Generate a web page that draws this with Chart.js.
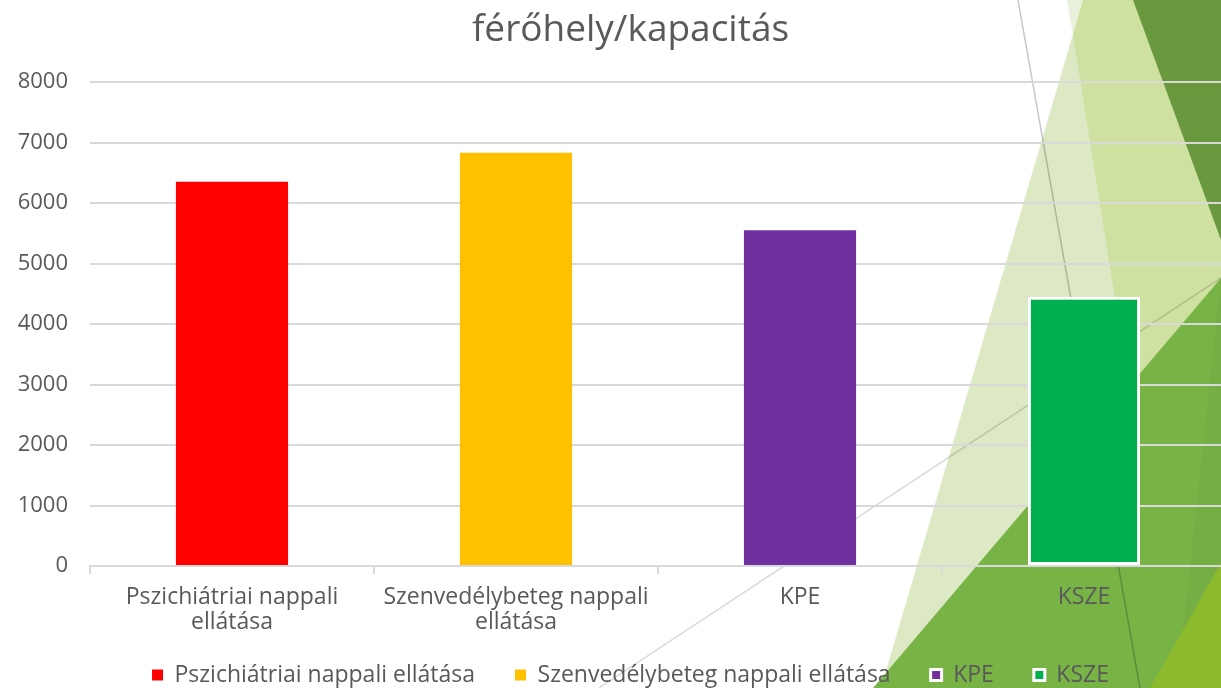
<!DOCTYPE html>
<html>
<head>
<meta charset="utf-8">
<script src="https://cdn.jsdelivr.net/npm/chart.js@4"></script>
<style>
  html, body { margin: 0; padding: 0; overflow: hidden; background: #fff; }
  #wrap { width: 1261px; height: 688px; }
</style>
</head>
<body>
<div id="wrap"><canvas id="capacityChart"></canvas></div>
<script>
// Adatok
const categories = [['Pszichiátriai nappali', 'ellátása'], ['Szenvedélybeteg nappali', 'ellátása'], 'KPE', 'KSZE'];
const legendNames = ['Pszichiátriai nappali ellátása', 'Szenvedélybeteg nappali ellátása', 'KPE', 'KSZE'];
const capacity = [6350, 6830, 5550, 4450];
const barColors = ['#ff0000', '#ffc000', '#7030a0', '#00b050'];
const barBorders = [0, 0, 0, 3];
const legendBorders = [0, 0, 3, 3];

const textColor = '#595959';
const fontFamily = '"Open Sans", sans-serif';

// Háttér díszítés (dia téma háromszögei)
const slideBackground = {
  id: 'slideBackground',
  beforeDraw(chart) {
    const c = chart.ctx;
    const W = chart.width;
    const poly = (pts, color) => {
      c.beginPath();
      c.moveTo(pts[0][0], pts[0][1]);
      pts.slice(1).forEach(p => c.lineTo(p[0], p[1]));
      c.closePath();
      c.fillStyle = color;
      c.fill();
    };
    const line = (a, b, color) => {
      c.beginPath();
      c.moveTo(a[0], a[1]);
      c.lineTo(b[0], b[1]);
      c.strokeStyle = color;
      c.lineWidth = 1.5;
      c.stroke();
    };
    c.save();
    poly([[1083, 0], [W, 0], [W, 688], [881, 688]], '#dde9c4');
    poly([[1067, 0], [1083, 0], [1073, 35]], '#e9f1dc');
    poly([[1073, 35], [1083, 0], [W, 0], [W, 688], [1177, 688]], '#cfe1a0');
    poly([[1133, 0], [W, 0], [W, 240], [1221, 240]], '#6a983f');
    poly([[1221, 278], [873, 688], [W, 688], [W, 278]], '#78b346');
    poly([[1221, 278], [1177, 688], [W, 688], [W, 278]], 'rgba(0,0,0,0.025)');
    poly([[1221, 563], [1150, 688], [W, 688], [W, 563]], '#8bbb2d');
    line([1018, 0], [1140, 688], 'rgba(0,0,0,0.22)');
    line([599, 688], [1221, 278], 'rgba(0,0,0,0.14)');
    c.restore();
  }
};

// Jelmagyarázat: alacsonyabb doboz, a szöveg feljebb kerül
const legendFit = {
  id: 'legendFit',
  beforeLayout(chart) {
    const lg = chart.legend;
    if (lg && !lg._fitPatched) {
      const origFit = lg.fit;
      const origDraw = lg.draw;
      lg.fit = function () {
        origFit.call(this);
        this.height = 52;
      };
      lg.draw = function () {
        const top = this.top;
        const height = this.height;
        this.top = top - 12.5;
        this.height = height + 12.5;
        origDraw.call(this);
        this.top = top;
        this.height = height;
      };
      lg._fitPatched = true;
    }
  }
};

const ctx = document.getElementById('capacityChart').getContext('2d');
new Chart(ctx, {
  type: 'bar',
  data: {
    labels: categories,
    datasets: [{
      label: 'férőhely/kapacitás',
      data: capacity,
      backgroundColor: barColors,
      borderColor: '#ffffff',
      borderWidth: barBorders,
      borderSkipped: false,
      categoryPercentage: 1,
      barPercentage: 0.395
    }]
  },
  options: {
    responsive: true,
    maintainAspectRatio: false,
    animation: false,
    plugins: {
      title: {
        display: true,
        text: 'férőhely/kapacitás',
        color: textColor,
        font: { family: fontFamily, size: 37, weight: 'normal', lineHeight: 1.2 },
        padding: { top: 8, bottom: 29.6 }
      },
      legend: {
        position: 'bottom',
        labels: {
          color: textColor,
          font: { family: fontFamily, size: 23 },
          boxWidth: 11,
          boxHeight: 11,
          padding: 40,
          generateLabels: () => legendNames.map((name, i) => ({
            text: name,
            fillStyle: barColors[i],
            strokeStyle: '#ffffff',
            lineWidth: legendBorders[i],
            fontColor: textColor,
            hidden: false,
            index: i
          }))
        },
        onClick: null
      },
      tooltip: { enabled: false }
    },
    scales: {
      x: {
        grid: {
          display: true,
          drawOnChartArea: false,
          drawTicks: true,
          tickLength: 8,
          color: '#d9d9d9',
          lineWidth: 2
        },
        border: { display: true, color: '#d9d9d9', width: 2 },
        ticks: {
          color: textColor,
          font: { family: fontFamily, size: 23, lineHeight: 1.1 },
          padding: 11,
          maxRotation: 0,
          autoSkip: false
        },
        afterFit: scale => { scale.height = 70; }
      },
      y: {
        min: 0,
        max: 8000,
        ticks: {
          stepSize: 1000,
          color: textColor,
          font: { family: fontFamily, size: 22 },
          padding: 22,
          callback: v => String(v)
        },
        grid: { color: '#d9d9d9', lineWidth: 2, drawTicks: false },
        border: { display: false },
        afterFit: scale => { scale.width = 90; }
      },
      // üres jobb oldali sáv, hogy a rajzterület a kép széléig érjen
      yRight: {
        position: 'right',
        display: true,
        ticks: { display: false },
        grid: { drawOnChartArea: false, drawTicks: false },
        border: { display: false },
        afterFit: scale => { scale.width = 35; }
      }
    }
  },
  plugins: [slideBackground, legendFit]
});
</script>
</body>
</html>
